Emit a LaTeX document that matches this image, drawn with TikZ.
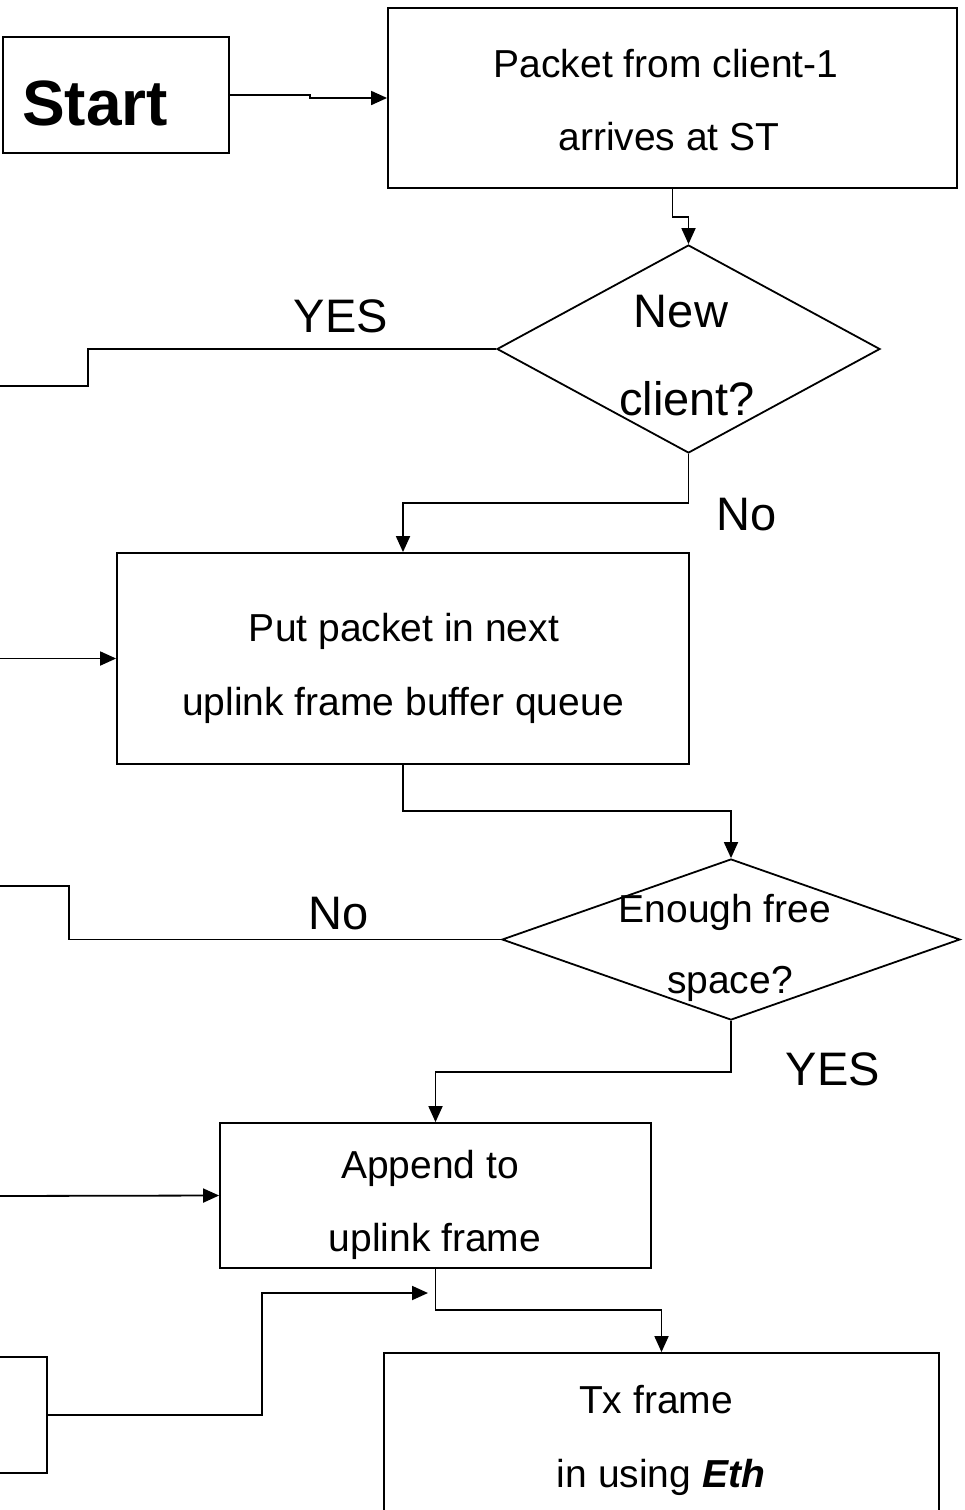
\documentclass[tikz,border=0pt]{standalone}
\usepackage{fontspec}
\setmainfont{Liberation Sans}
\usetikzlibrary{shapes.geometric,arrows.meta}

\begin{document}
\begin{tikzpicture}[x=1pt,y=-1pt,
  line width=1.8pt,
  box/.style={draw,rectangle,inner sep=0pt},
  decision/.style={draw,diamond,inner sep=0pt},
  body/.style={anchor=base,inner sep=0pt,font=\fontsize{39}{44}\selectfont},
  lbl/.style={anchor=base,inner sep=0pt,font=\fontsize{47}{52}\selectfont},
  arr/.style={-{Triangle[length=16pt,width=14pt]}}]
\useasboundingbox (0,0) rectangle (964,1510);
\clip (0,0) rectangle (964,1510);

% boxes and decisions
\node[box,minimum width=226,minimum height=116] (start) at (116,95) {};
\node[box,minimum width=569,minimum height=180] (packet) at (672.5,98) {};
\node[decision,minimum width=383,minimum height=208] (newc) at (688.5,349) {};
\node[box,minimum width=572,minimum height=211] (put) at (403,658.5) {};
\node[decision,minimum width=458,minimum height=161] (enough) at (731,939.5) {};
\node[box,minimum width=431,minimum height=145] (append) at (435.5,1195.5) {};
\node[box,minimum width=555,minimum height=207] (tx) at (661.5,1456.5) {};
\node[box,minimum width=107,minimum height=116] (prev) at (-6.5,1415) {};

% texts
\node[anchor=base,inner sep=0pt,font=\fontsize{64}{70}\selectfont\bfseries] (startT) at (95,125) {Start};
\node[body] (packetA) at (666,77) {Packet from client-1};
\node[body] (packetB) at (669,150) {arrives at ST};
\node[lbl] (newA) at (681,327) {New};
\node[lbl] (newB) at (687,415) {client?};
\node[body] (putA) at (404,641) {Put packet in next};
\node[body] (putB) at (403,715) {uplink frame buffer queue};
\node[body] (enA) at (725,922) {Enough free};
\node[body] (enB) at (730,993) {space?};
\node[body] (apA) at (430,1178) {Append to};
\node[body] (apB) at (435,1251) {uplink frame};
\node[body] (txA) at (656,1413) {Tx frame};
\node[body] (txB) at (661,1487) {in using \textbf{\textit{Eth}}};

% branch labels
\node[lbl] (yes1) at (341,332) {YES};
\node[lbl] (no1) at (747,530) {No};
\node[lbl] (no2) at (339,929) {No};
\node[lbl] (yes2) at (833,1085) {YES};

% free ends of connectors leaving or entering the picture
\coordinate (yesOut) at (-5,386);
\coordinate (noOut) at (-5,886);
\coordinate (inPut) at (-5,658.5);
\coordinate (inAppend) at (-5,1196);
\coordinate (backIn) at (428,1293);

% connectors
\draw[arr] (start.east) -- (310,95) -- (310,98) -- (packet.west);
\draw[arr] (packet.south) -- ++(0,28) -| (newc.north);
\draw (newc.west) -- (88,349) -- (88,386) -- (yesOut);
\draw[arr] (newc.south) -- (688.5,503) -| (put.north);
\draw[arr] (inPut) -- (put.west);
\draw[arr] (put.south) -- (403,811) -| (enough.north);
\draw (enough.west) -- (69,939.5) -- (69,886) -- (noOut);
\draw[arr] (enough.south) -- (731,1072) -| (append.north);
\draw[arr] (inAppend) -- (append.west);
\draw[arr] (append.south) -- (435.5,1310) -| (tx.north);
\draw[arr] (prev.east) -- (262,1415) -- (262,1293) -- (backIn);
\end{tikzpicture}
\end{document}
